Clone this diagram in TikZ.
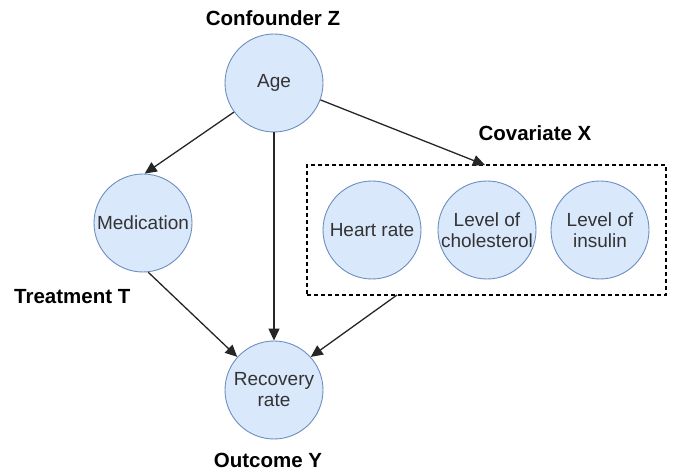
\documentclass[tikz,border=0pt]{standalone}
\usepackage{fontspec}
\setmainfont{Liberation Sans}
\usetikzlibrary{arrows.meta}
\definecolor{nodefill}{HTML}{DAE8FC}
\definecolor{nodeline}{HTML}{6C8EBF}
\definecolor{txt}{HTML}{333333}
\tikzset{
  var/.style={circle, draw=nodeline, fill=nodefill, line width=0.9pt, minimum size=98pt, inner sep=0pt, align=center, text=txt, font=\fontsize{19}{21}\selectfont},
  lab/.style={font=\bfseries\fontsize{20.5}{22}\selectfont, text=black, inner sep=0pt},
  conn/.style={draw=black!85, line width=1.3pt, -{Triangle[length=12pt,width=11pt]}},
  box/.style={draw=black, dashed, line width=1.1pt, dash pattern=on 4pt off 3pt}
}
\begin{document}
\begin{tikzpicture}[x=1pt,y=-1pt]
\useasboundingbox (0,0) rectangle (673,470);
\node[var] (age) at (274,83) {Age};
\node[var] (med) at (143,223) {Medication};
\node[var] (rec) at (274,390) {Recovery\\rate};
\node[box, minimum width=359pt, minimum height=130pt, inner sep=0pt] (cov) at (486.5,230) {};
\node[var] (hr) at (372,230) {Heart rate};
\node[var] (chol) at (487,230) {Level of\\cholesterol};
\node[var] (ins) at (600,230) {Level of\\insulin};
\node[lab] (lz) at (273,18) {Confounder Z};
\node[lab] (lx) at (535,133) {Covariate X};
\node[lab, anchor=west] (lt) at (14,297) {Treatment T};
\node[lab] (ly) at (268,460) {Outcome Y};
\coordinate (covtop) at (485,165);
\coordinate (covbot) at (397,295);
\draw[conn] (age.216) -- (med.88);
\draw[conn] (age.340) -- (covtop);
\draw[conn] (age) -- (rec);
\draw[conn] (med.276) -- (rec.138);
\draw[conn] (covbot) -- (rec.42);
\end{tikzpicture}
\end{document}
